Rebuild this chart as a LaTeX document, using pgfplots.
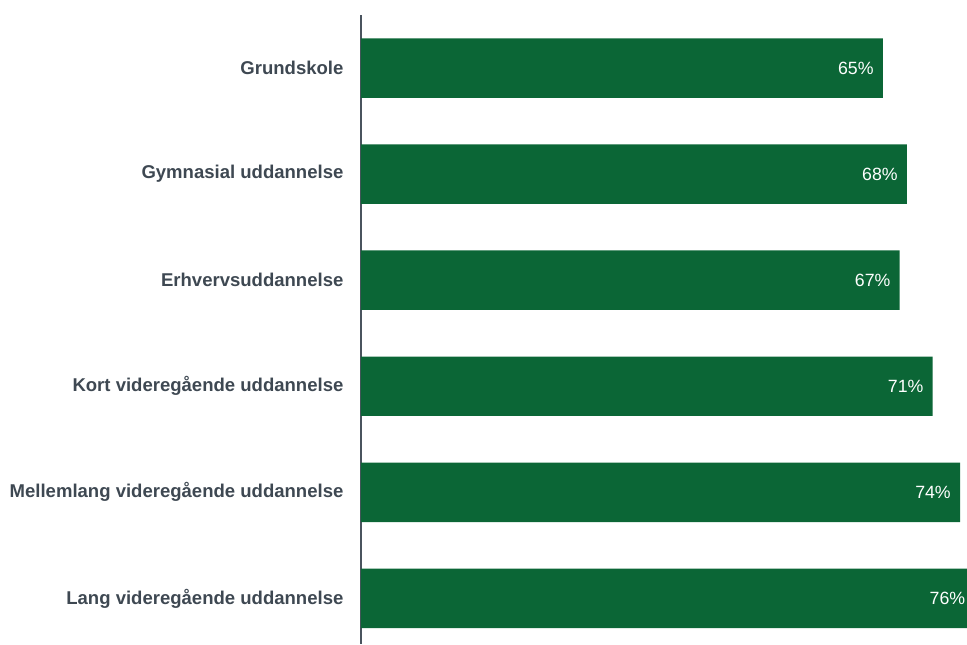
\documentclass[border=0pt]{standalone}
\usepackage{pgfplots}
\pgfplotsset{compat=1.18}
\usepackage{fontspec}
\setmainfont{Liberation Sans}
\definecolor{bargreen}{HTML}{0B6636}
\definecolor{labgray}{HTML}{3E4852}
\definecolor{axgray}{HTML}{4A545E}
\begin{document}
\begin{tikzpicture}
\begin{axis}[
  at={(0,0)}, anchor=south west,
  scale only axis,
  width=454.5pt, height=471.75pt,
  xbar, bar width=44.6pt,
  xmin=0, xmax=75.37,
  ymin=-0.5, ymax=5.43,
  y dir=reverse,
  axis x line=none,
  axis y line*=left,
  axis line style={-, draw=axgray, line width=1.5pt},
  ytick={0,1,2,3,4,5},
  yticklabels={Grundskole, Gymnasial uddannelse, Erhvervsuddannelse, Kort videregående uddannelse, Mellemlang videregående uddannelse, Lang videregående uddannelse},
  major tick length=0pt,
  yticklabel style={font=\fontsize{13.9}{15}\selectfont\bfseries, text=labgray, anchor=east, inner sep=0pt, xshift=-13pt},
  point meta=explicit symbolic,
  nodes near coords,
  nodes near coords style={anchor=east, xshift=-6.75pt, text=white, font=\fontsize{13.3}{15}\selectfont, inner sep=0pt},
  clip=false,
]
\addplot[fill=bargreen, draw=none] table[meta=lab] {
x y lab
64.9 0 65\%
67.9 1 68\%
67.0 2 67\%
71.1 3 71\%
74.5 4 74\%
76.3 5 76\%
};
\end{axis}
\pgfresetboundingbox
\useasboundingbox (-270.75pt,0) rectangle (454.5pt,483pt);
\end{tikzpicture}
\end{document}
